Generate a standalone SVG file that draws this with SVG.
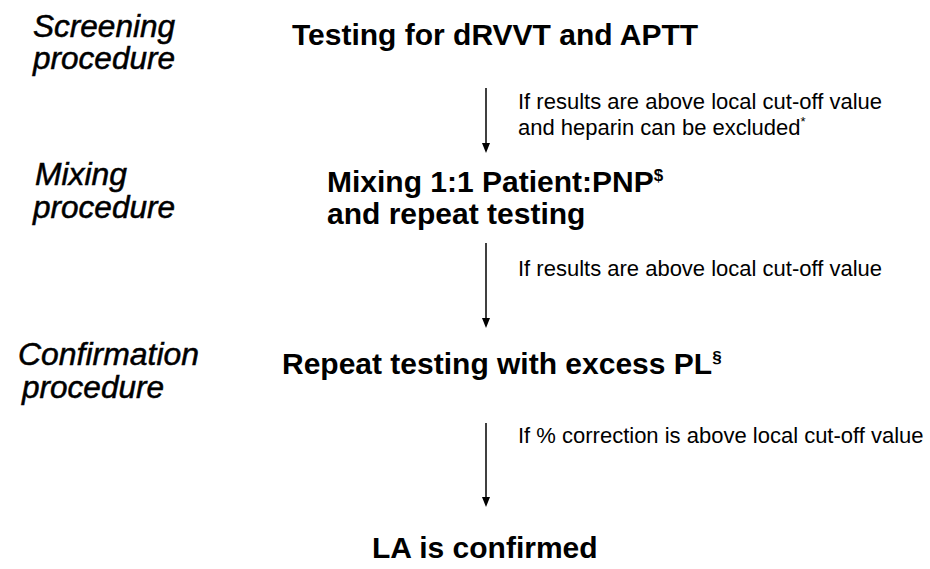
<svg xmlns="http://www.w3.org/2000/svg" width="930" height="569" viewBox="0 0 930 569">
<defs>
<style>
.stage{font-family:"Liberation Sans",Arial,sans-serif;font-style:italic;font-size:31px;fill:#000;stroke:#000;stroke-width:0.5}
.box{font-family:"Liberation Sans",Arial,sans-serif;font-weight:bold;font-size:30px;fill:#000}
.lbl{font-family:"Liberation Sans",Arial,sans-serif;font-size:22px;fill:#000}
.sup{font-size:17px}
.edge{stroke:#000;stroke-width:1.5;fill:none}
.head{fill:#000}
</style>
</defs>
<rect width="930" height="569" fill="#fff"/>
<g id="stage-labels">
<text class="stage" x="33" y="37" textLength="142" lengthAdjust="spacingAndGlyphs">Screening</text>
<text class="stage" x="33" y="69" textLength="142" lengthAdjust="spacingAndGlyphs">procedure</text>
<text class="stage" x="35" y="185" textLength="92" lengthAdjust="spacingAndGlyphs">Mixing</text>
<text class="stage" x="33" y="218" textLength="142" lengthAdjust="spacingAndGlyphs">procedure</text>
<text class="stage" x="18" y="365" textLength="181" lengthAdjust="spacingAndGlyphs">Confirmation</text>
<text class="stage" x="22" y="398" textLength="142" lengthAdjust="spacingAndGlyphs">procedure</text>
</g>
<g id="node-screening">
<text class="box" x="292" y="45">Testing for dRVVT and APTT</text>
</g>
<g id="node-mixing">
<text class="box" x="327" y="192">Mixing 1:1 Patient:PNP<tspan class="sup" dy="-11">$</tspan></text>
<text class="box" x="327" y="224">and repeat testing</text>
</g>
<g id="node-confirmation">
<text class="box" x="282" y="374">Repeat testing with excess PL<tspan class="sup" dy="-11">§</tspan></text>
</g>
<g id="node-result">
<text class="box" x="372" y="558">LA is confirmed</text>
</g>
<g id="connectors">
<line class="edge" x1="486" y1="88" x2="486" y2="144"/>
<path class="head" d="M482,143 L486,153 L490,143 Z"/>
<line class="edge" x1="486" y1="243" x2="486" y2="319"/>
<path class="head" d="M482,318 L486,328 L490,318 Z"/>
<line class="edge" x1="486" y1="423" x2="486" y2="498"/>
<path class="head" d="M482,497 L486,507 L490,497 Z"/>
<text class="lbl" x="518" y="109">If results are above local cut-off value</text>
<text class="lbl" x="518" y="135">and heparin can be excluded<tspan font-size="13" dy="-9">*</tspan></text>
<text class="lbl" x="518" y="276">If results are above local cut-off value</text>
<text class="lbl" x="518" y="443">If % correction is above local cut-off value</text>
</g>
</svg>
